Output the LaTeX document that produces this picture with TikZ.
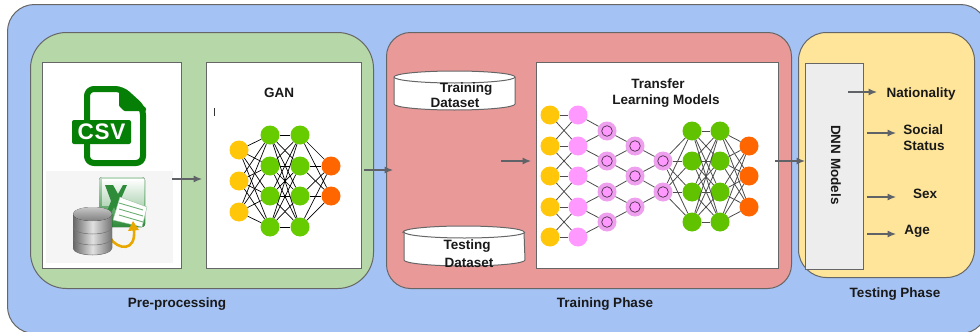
\documentclass[tikz,border=0pt]{standalone}
\usepackage{fontspec}
\setmainfont{Liberation Sans}
\usepackage{tikz}
\usetikzlibrary{positioning,arrows.meta}
\definecolor{outerblue}{HTML}{A4C2F4}
\definecolor{prepgreen}{HTML}{B6D7A8}
\definecolor{trainred}{HTML}{EA9999}
\definecolor{testyellow}{HTML}{FFE599}
\definecolor{edgegray}{HTML}{666666}
\definecolor{arrowgray}{HTML}{5F6368}
\definecolor{nyellow}{HTML}{FFC60A}
\definecolor{ngreen}{HTML}{66CC00}
\definecolor{norange}{HTML}{FF6600}
\definecolor{npink}{HTML}{FF99FF}
\definecolor{nhalo}{HTML}{EE9FEE}
\definecolor{csvgreen}{HTML}{067F06}
\definecolor{xlgreen}{HTML}{2E8B3A}
\definecolor{goldarc}{HTML}{E8A800}
\tikzset{
  panel/.style={draw=edgegray,line width=1pt},
  sheet/.style={panel,fill=white},
  lbl/.style={font=\fontsize{13.5}{16}\selectfont\bfseries,inner sep=0pt,text=black!90,yshift=-1.5pt},
  flow/.style={-{Latex[length=8.5pt,width=7pt]},draw=arrowgray,line width=1.1pt},
  neuron/.style={circle,minimum size=19pt,inner sep=0pt},
  ringed/.style={neuron,fill=nhalo,path picture={\draw[black!70!npink,fill=npink,line width=0.7pt] (path picture bounding box.center) circle (5.3pt);}},
  wire/.style={draw=black,line width=0.7pt},
  softwire/.style={draw=black!70,line width=0.8pt},
  dbslice/.style={left color=black!60,right color=black!55,middle color=black!12}
}
\begin{document}
\begin{tikzpicture}[x=1pt,y=-1pt]
\useasboundingbox (0,0) rectangle (980,332);
\clip (0,0) rectangle (980,332);
% panels
\node[panel,fill=outerblue,rounded corners=27pt,minimum width=980pt,minimum height=329pt,anchor=north west] (outer) at (7,4) {};
\node[panel,fill=prepgreen,rounded corners=36pt,minimum width=343pt,minimum height=256pt,anchor=north west] (prep) at (30,32) {};
\node[panel,fill=trainred,rounded corners=24pt,minimum width=405pt,minimum height=256pt,anchor=north west] (train) at (386,32) {};
\node[panel,fill=testyellow,rounded corners=28pt,minimum width=176pt,minimum height=245pt,anchor=north west] (test) at (798,32) {};
\node[sheet,minimum width=139pt,minimum height=206pt,anchor=north west] (files) at (42,62) {};
\node[sheet,minimum width=155pt,minimum height=206pt,anchor=north west] (gan) at (206,62) {};
\node[sheet,minimum width=242pt,minimum height=206pt,anchor=north west] (transfer) at (536,62) {};
\node[panel,fill=black!7,minimum width=58pt,minimum height=206pt,anchor=north west] (dnn) at (805,63) {};
% csv icon
\draw[csvgreen,line width=6pt,line join=round,rounded corners=7pt] (87,89) -- (122,89) -- (143,108) -- (143,163) -- (87,163) -- cycle;
\fill[csvgreen,rounded corners=1pt] (119,87) -- (146,108) -- (146,111) -- (124,111) -- (119,106) -- cycle;
\fill[csvgreen,rounded corners=2pt] (72,120) rectangle (131,144);
\node[font=\fontsize{22.5}{22}\selectfont\bfseries,text=white,inner sep=0pt] (csv) at (101.5,132) {C\kern0.8pt S\kern0.8pt V};
% excel and database picture
\fill[black!4] (46,171) rectangle (173,263);
\fill[top color=xlgreen!30!white,bottom color=xlgreen,rounded corners=3pt] (99,177) -- (145,177) -- (145,227) -- (99,227) -- cycle;
\fill[top color=white,bottom color=xlgreen!35!white] (102,179) rectangle (144,205);
\fill[xlgreen] (105,185) -- (113,185) -- (118,194) -- (123,185) -- (127,185) -- (120,201) -- (127,217) -- (119,217) -- (114,207) -- (109,217) -- (105,217) -- (111,201) -- cycle;
\fill[white,draw=xlgreen!50,line width=0.4pt] (120,197) -- (147,207) -- (142,227) -- (113,220) -- cycle;
\foreach \t in {0,6,12}
  \draw[xlgreen!70,line width=0.9pt] (119,{203+\t}) -- ++(24,7);
\draw[goldarc,line width=2.6pt] (110,238) .. controls (118,250) and (136,252) .. (134,230);
\fill[goldarc] (128,231) -- (133,221) -- (139,230) -- cycle;
\foreach \h/\d in {238/248,227/238,214/227} {
  \fill[dbslice] (73,\h) -- (73,\d) arc[start angle=180,end angle=0,x radius=19.5,y radius=7] -- (112,\h) -- cycle;
  \draw[black!50,line width=0.5pt] (73,\d) arc[start angle=180,end angle=0,x radius=19.5,y radius=7];
}
\fill[top color=black!22,bottom color=black!50] (92.5,214) ellipse (19.5 and 7);
% gan
\node[lbl] (ganlabel) at (279,91) {GAN};
\coordinate (cursora) at (214,108); \coordinate (cursorb) at (214,116);
\draw[black!80,line width=0.7pt] (cursora) -- (cursorb);
\foreach \i/\y in {1/150,2/181,3/212} \node[neuron,fill=nyellow] (ga\i) at (239,\y) {};
\foreach \i/\y in {1/135,2/166,3/196,4/227} \node[neuron,fill=ngreen] (gb\i) at (270,\y) {};
\foreach \i/\y in {1/135,2/166,3/196,4/227} \node[neuron,fill=ngreen] (gc\i) at (300,\y) {};
\foreach \i/\y in {1/166,2/196} \node[neuron,fill=norange] (gd\i) at (331,\y) {};
\foreach \a in {1,2,3} \foreach \b in {1,2,3,4} \draw[wire] (ga\a) -- (gb\b);
\foreach \a in {1,2,3,4} \foreach \b in {1,2,3,4} \draw[wire] (gb\a) -- (gc\b);
\foreach \a in {1,2,3,4} \foreach \b in {1,2} \draw[wire] (gc\a) -- (gd\b);
% datasets
\foreach \n/\l/\t/\r/\b in {trainset/394/77/515/104,testset/404/232/524/260} {
  \coordinate (\n) at (\l,\t);
  \draw[sheet] (\n) -- (\l,\b) arc[start angle=180,end angle=0,x radius=60.5,y radius=6] -- (\r,\t)
    arc[start angle=0,end angle=-180,x radius=60.5,y radius=6] -- cycle;
  \draw[panel] (\n) arc[start angle=180,end angle=0,x radius=60.5,y radius=6];
}
\node[lbl] (trainlabela) at (466,88) {Training};
\node[lbl] (trainlabelb) at (455,101) {Dataset};
\node[lbl] (testlabela) at (467,245) {Testing};
\node[lbl] (testlabelb) at (469,261) {Dataset};
% transfer learning
\node[lbl] (tlabela) at (658,82) {Transfer};
\node[lbl] (tlabelb) at (666,100) {Learning Models};
\foreach \i/\y in {1/115,2/146,3/176,4/207,5/237} {
  \node[neuron,fill=nyellow] (ta\i) at (550,\y) {};
  \node[neuron,fill=npink] (tb\i) at (578,\y) {};
}
\foreach \i/\y in {1/131,2/161,3/192,4/222} \node[ringed] (tc\i) at (607,\y) {};
\foreach \i/\y in {1/146,2/176,3/207} \node[ringed] (td\i) at (635,\y) {};
\foreach \i/\y in {1/161,2/192} \node[ringed] (te\i) at (663,\y) {};
\foreach \i/\y in {1/131,2/161,3/192,4/222} {
  \node[neuron,fill=ngreen!95!black] (tf\i) at (692,\y) {};
  \node[neuron,fill=ngreen!95!black] (tg\i) at (720,\y) {};
}
\foreach \i/\y in {1/146,2/176,3/207} \node[neuron,fill=norange] (th\i) at (749,\y) {};
\foreach \a/\b in {1/1,1/2,2/1,2/2,2/3,3/2,3/3,3/4,4/3,4/4,4/5,5/4,5/5} \draw[softwire] (ta\a) -- (tb\b);
\foreach \a/\b in {1/1,2/1,2/2,3/2,3/3,4/3,4/4,5/4} \draw[softwire] (tb\a) -- (tc\b);
\foreach \a/\b in {1/1,2/1,2/2,3/2,3/3,4/3} \draw[softwire] (tc\a) -- (td\b);
\foreach \a/\b in {1/1,2/1,2/2,3/2} \draw[softwire] (td\a) -- (te\b);
\foreach \a in {1,2} \foreach \b in {1,2,3,4} \draw[softwire] (te\a) -- (tf\b);
\foreach \a in {1,2,3,4} \foreach \b in {1,2,3,4} \draw[softwire] (tf\a) -- (tg\b);
\foreach \a in {1,2,3,4} \foreach \b in {1,2,3} \draw[softwire] (tg\a) -- (th\b);
% testing
\node[lbl,rotate=-90] (dnnlabel) at (836,163.5) {DNN Models};
\node[lbl] (nat) at (921,93) {Nationality};
\node[lbl,align=left] (soc) at (924,136) {Social\\Status};
\node[lbl] (sexlabel) at (925,192) {Sex};
\node[lbl] (agelabel) at (917,230) {Age};
% captions
\node[lbl] (prepcap) at (177,303) {Pre-processing};
\node[lbl] (traincap) at (605,303) {Training Phase};
\node[lbl] (testcap) at (895,293) {Testing Phase};
% arrows
\coordinate (s1) at (172,179); \coordinate (e1) at (202,179);
\coordinate (s2) at (364,170); \coordinate (e2) at (393,170);
\coordinate (s3) at (501,161); \coordinate (e3) at (531,161);
\coordinate (s4) at (775,161); \coordinate (e4) at (805,161);
\coordinate (s5) at (848,92);  \coordinate (e5) at (877,92);
\coordinate (s6) at (867,133); \coordinate (e6) at (896,133);
\coordinate (s7) at (867,197); \coordinate (e7) at (896,197);
\coordinate (s8) at (867,234); \coordinate (e8) at (896,234);
\foreach \n in {1,...,8} \draw[flow] (s\n) -- (e\n);
\end{tikzpicture}
\end{document}
